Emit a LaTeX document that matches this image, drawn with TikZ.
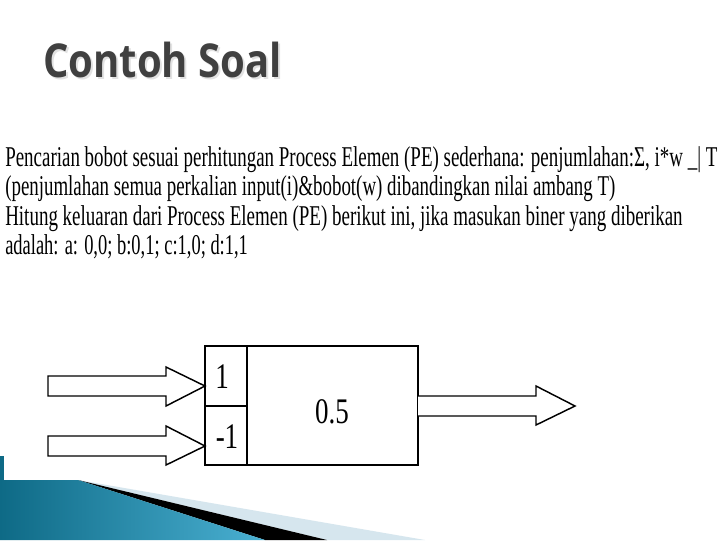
\documentclass[tikz,border=0pt]{standalone}
\usepackage{fontspec}
\usepackage{graphicx}
\setmainfont{Liberation Serif}
\newfontfamily\titlefont{Open Sans}
\definecolor{titlegray}{HTML}{404040}
\definecolor{shadowgray}{HTML}{E2E2E2}
\definecolor{tealdark}{HTML}{0E6A86}
\definecolor{teallight}{HTML}{4AB0D2}
\definecolor{paleband}{HTML}{D6E6EE}
\tikzset{
  bodyline/.style={anchor=base west, inner sep=0pt, font=\fontsize{21.5}{24}\selectfont},
  fatarrow/.style={draw=black, fill=white, line width=1.1pt, line join=miter},
  cellline/.style={draw=black, line width=1pt},
  celltext/.style={inner sep=0pt, font=\fontsize{27}{28}\selectfont}
}
\begin{document}
\begin{tikzpicture}[x=0.75pt,y=-0.75pt]
\useasboundingbox (0,0) rectangle (720,540);
\fill[white] (0,0) rectangle (720,540);

% title
\node[anchor=base west, inner sep=0pt, text=shadowgray] (titleshadow) at (45,79)
  {\titlefont\bfseries\fontsize{35}{40}\selectfont\resizebox{179pt}{\height}{Contoh Soal}};
\node[anchor=base west, inner sep=0pt, text=titlegray] (title) at (43,77)
  {\titlefont\bfseries\fontsize{35}{40}\selectfont\resizebox{179pt}{\height}{Contoh Soal}};

% body text
\node[bodyline] (l1) at (5,166) {\resizebox{534pt}{\height}{Pencarian bobot sesuai perhitungan Process Elemen (PE) sederhana: penjumlahan:Σ, i*w \_| T}};
\node[bodyline] (l2) at (5,195) {\resizebox{457.5pt}{\height}{(penjumlahan semua perkalian input(i)\&bobot(w) dibandingkan nilai ambang T)}};
\node[bodyline] (l3) at (5,225) {\resizebox{508pt}{\height}{Hitung keluaran dari Process Elemen (PE) berikut ini, jika masukan biner yang diberikan}};
\node[bodyline] (l4) at (5,254) {\resizebox{182pt}{\height}{adalah: a: 0,0; b:0,1; c:1,0; d:1,1}};

% processing element
\coordinate (pnw) at (205,346);
\coordinate (pse) at (418,465);
\draw[cellline] (pnw) rectangle (pse);
\draw[cellline] (247,346) -- (247,465);
\draw[draw=black, line width=1.8pt] (205,406) -- (247,406);
\node[celltext] (w1) at (222,377) {\scalebox{0.75}[1]{1}};
\node[celltext] (w2) at (227,437) {\scalebox{0.75}[1]{-1}};
\node[celltext] (th) at (332,412) {\scalebox{0.75}[1]{0.5}};

% input arrows
\coordinate (in1) at (205,386);
\coordinate (in2) at (205,446);
\draw[fatarrow] (48,376) -- (166,376) -- (166,367) -- (in1) -- (166,406) -- (166,396) -- (48,396) -- cycle;
\draw[fatarrow] (48,436) -- (166,436) -- (166,426) -- (in2) -- (166,465) -- (166,456) -- (48,456) -- cycle;

% output arrow
\coordinate (out) at (575,406);
\draw[fatarrow] (418,396) -- (536,396) -- (536,386) -- (out) -- (536,425) -- (536,416) -- (418,416);

% bottom decoration
\fill[tealdark] (0,456) rectangle (4,480);
\fill[paleband] (78,480) -- (425,540) -- (327,540) -- cycle;
\fill[black] (78,480) -- (327,540) -- (265,540) -- cycle;
\shade[left color=tealdark, right color=teallight] (0,480) -- (78,480) -- (265,540) -- (0,540) -- cycle;
\end{tikzpicture}
\end{document}
